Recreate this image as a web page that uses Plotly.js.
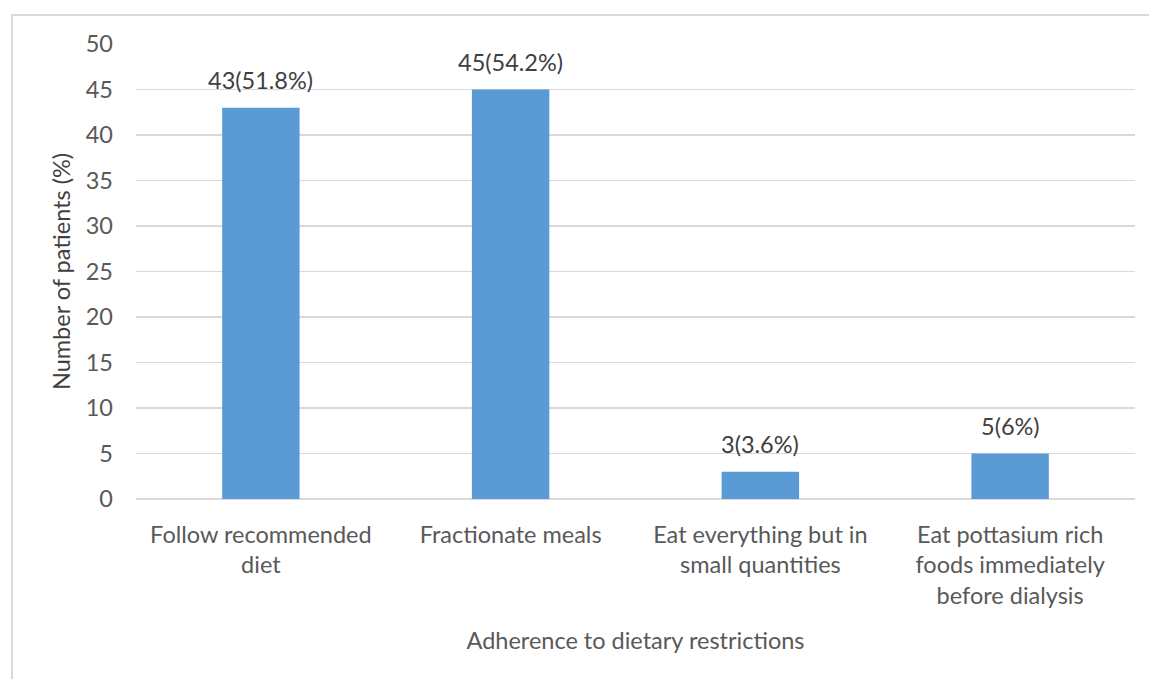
<!DOCTYPE html>
<html><head><meta charset="utf-8">
<script src="https://cdn.plot.ly/plotly-3.0.1.min.js"></script>
<style>
html,body{margin:0;padding:0;background:#fff;overflow:hidden}
#chart{width:1149px;height:679px}
#frame{position:absolute;left:11px;top:14px;width:1300px;height:800px;border-left:2px solid #d9d9d9;border-top:2px solid #d9d9d9;pointer-events:none}
</style></head>
<body>
<div id="chart"></div>
<div id="frame"></div>
<script>
const categories = ["Follow recommended<br>diet", "Fractionate meals", "Eat everything but in<br>small quantities", "Eat pottasium rich<br>foods immediately<br>before dialysis"];
const counts = [43, 45, 3, 5];
const labels = ["43(51.8%)", "45(54.2%)", "3(3.6%)", "5(6%)"];
const yTicks = [0, 5, 10, 15, 20, 25, 30, 35, 40, 45, 50];

const font = "Lato, 'Open Sans', sans-serif";
const FS = 23.5;
const trace = {
  type: 'bar', x: categories, y: counts,
  marker: {color: '#5b9bd5'}, hoverinfo: 'none'
};
const annotations = categories.map((c, i) => ({
  x: c, y: counts[i], xref: 'x', yref: 'y', text: labels[i],
  showarrow: false, yanchor: 'bottom', yshift: 12,
  font: {family: font, size: FS, color: '#404040'}
}));
const layout = {
  width: 1149, height: 679,
  margin: {l: 136, r: 14, t: 44, b: 180},
  paper_bgcolor: '#fff', plot_bgcolor: '#fff',
  bargap: 0.69, showlegend: false,
  font: {family: font, color: '#595959', size: FS},
  annotations: annotations,
  xaxis: {type: 'category', showgrid: false, showline: false, zeroline: false,
    ticks: '', ticklabelstandoff: 19, tickfont: {size: FS, color: '#595959'},
    title: {text: 'Adherence to dietary restrictions', font: {size: FS, color: '#595959'}, standoff: 24}},
  yaxis: {range: [0, 50], tickvals: yTicks, showgrid: true, gridcolor: '#d9d9d9', gridwidth: 1.5,
    zeroline: true, zerolinecolor: '#d9d9d9', zerolinewidth: 1.5, showline: false, ticks: '',
    ticklabelstandoff: 22, tickfont: {size: FS, color: '#595959'},
    title: {text: 'Number of patients (%)', font: {size: FS, color: '#404040'}, standoff: 8}}
};
Plotly.newPlot('chart', [trace], layout, {displayModeBar: false, staticPlot: true});
</script>
</body></html>
